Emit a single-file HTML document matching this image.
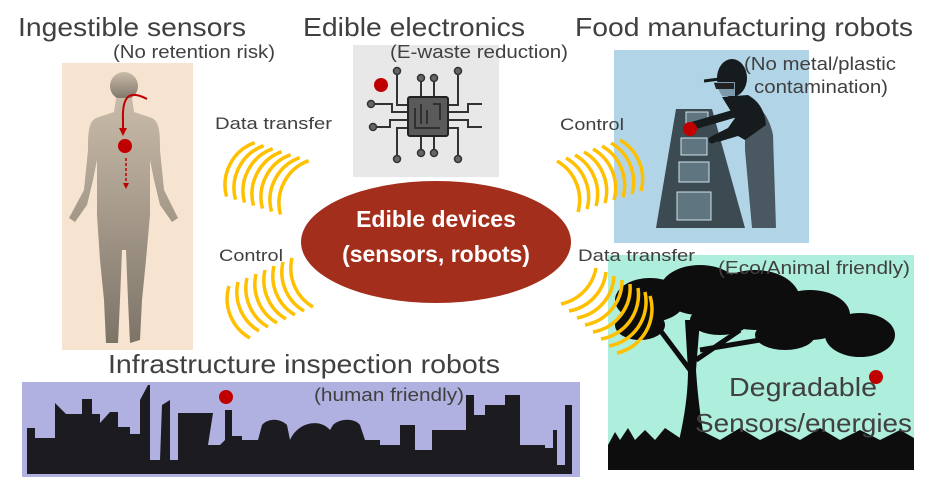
<!DOCTYPE html>
<html><head><meta charset="utf-8"><style>
html,body{margin:0;padding:0;background:#fff;width:931px;height:486px;overflow:hidden}
svg{display:block}
text{font-family:"Liberation Sans",sans-serif}
</style></head><body>
<svg width="931" height="486" viewBox="0 0 931 486" xmlns="http://www.w3.org/2000/svg">
<defs>
<linearGradient id="hg" x1="0" y1="0" x2="0" y2="1"><stop offset="0" stop-color="#c9bba9"/><stop offset="1" stop-color="#7d7468"/></linearGradient>
</defs>

<!-- Human panel -->
<rect x="62" y="63" width="131" height="287" fill="#f6e4d0"/>
<g fill="url(#hg)">
<circle cx="124" cy="86" r="14"/>
<path d="M116,98 L132,98 L134,112 L152,118 C160,122 160,135 160,150 L164,190 L178,218 L172,222 L160,205 L154,180 L150,160 L150,215 L146,260 L142,300 L140,340 L130,343 L128,300 L126,250 L122,250 L120,300 L118,343 L106,343 L104,300 L100,260 L97,215 L97,160 L93,180 L87,205 L75,222 L69,218 L84,190 L88,150 C88,135 88,122 96,118 L114,112 Z"/>
</g>
<path d="M147,99 C130,90 122,95 123,120 L123,132" stroke="#c00000" stroke-width="2" fill="none"/>
<path d="M119,128 L123,136 L127,128 Z" fill="#c00000"/>
<circle cx="125" cy="146" r="7" fill="#c00000"/>
<path d="M126,158 L126,183" stroke="#c00000" stroke-width="1.5" stroke-dasharray="3,2"/>
<path d="M123,183 L126,189 L129,183 Z" fill="#c00000"/>

<!-- Chip panel -->
<rect x="353" y="45" width="146" height="132" fill="#e8e8e8"/>
<g stroke="#333" stroke-width="2" fill="none">
<path d="M397,72 L397,105 L410,105"/><path d="M421,80 L421,98"/><path d="M434,80 L434,98"/><path d="M458,72 L458,105 L446,105"/>
<path d="M397,158 L397,128 L410,128"/><path d="M421,152 L421,134"/><path d="M434,152 L434,134"/><path d="M458,158 L458,128 L446,128"/>
<path d="M372,104 L392,104 L392,112 L410,112"/><path d="M374,127 L390,127 L390,120 L410,120"/>
<path d="M446,112 L468,112 L468,104 L482,104"/><path d="M446,120 L468,120 L468,127 L482,127"/>
</g>
<g fill="#666" stroke="#333" stroke-width="1.5">
<circle cx="397" cy="71" r="3.5"/><circle cx="421" cy="78" r="3.5"/><circle cx="434" cy="78" r="3.5"/><circle cx="458" cy="71" r="3.5"/>
<circle cx="397" cy="159" r="3.5"/><circle cx="421" cy="153" r="3.5"/><circle cx="434" cy="153" r="3.5"/><circle cx="458" cy="159" r="3.5"/>
<circle cx="371" cy="104" r="3.5"/><circle cx="373" cy="127" r="3.5"/>
</g>
<rect x="408" y="97" width="40" height="39" rx="2" fill="#5a5a5a" stroke="#222" stroke-width="2"/>
<path d="M415,108 L415,128 L440,128 M421,104 L421,124 M427,110 L427,124 M433,104 L440,104 L440,120" stroke="#222" stroke-width="1.5" fill="none"/>
<circle cx="381" cy="85" r="7" fill="#c00000"/>

<!-- Food panel -->
<rect x="614" y="50" width="195" height="193" fill="#b1d5e7"/>
<path d="M676,109 L712,109 L745,228 L656,228 Z" fill="#3c4a52"/>
<g fill="#5f7580" stroke="#cfe3ec" stroke-width="1">
<rect x="686" y="112" width="22" height="12"/><rect x="681" y="138" width="26" height="17"/><rect x="679" y="162" width="30" height="20"/><rect x="677" y="192" width="34" height="28"/>
</g>
<path d="M745,98 C762,105 770,120 773,135 L776,228 L752,228 L745,150 Z" fill="#4a5961"/>
<path d="M722,97 L748,95 C760,102 765,112 766,125 L745,140 L738,136 L718,142 L712,136 L728,128 L735,118 Z" fill="#161b1e"/>
<path d="M740,112 L692,126" stroke="#161b1e" stroke-width="8" stroke-linecap="round"/>
<path d="M745,125 L712,140" stroke="#161b1e" stroke-width="7" stroke-linecap="round"/>
<ellipse cx="732" cy="78" rx="15" ry="19" fill="#161b1e"/>
<path d="M704,81 L735,77" stroke="#161b1e" stroke-width="3"/>
<path d="M714,82 L735,82 L735,96 L722,96 Z" fill="#7c9aab"/>
<path d="M714,83 L734,83 L734,89 L716,89 Z" fill="#222"/>
<circle cx="690" cy="129" r="7" fill="#c00000"/>

<!-- Tree panel -->
<rect x="608" y="255" width="306" height="215" fill="#aeeedc"/>
<g fill="#0d0d0d">
<ellipse cx="650" cy="300" rx="35" ry="22"/>
<ellipse cx="700" cy="290" rx="40" ry="25"/>
<ellipse cx="755" cy="300" rx="45" ry="30"/>
<ellipse cx="810" cy="315" rx="40" ry="25"/>
<ellipse cx="860" cy="335" rx="35" ry="22"/>
<ellipse cx="640" cy="325" rx="25" ry="15"/>
<ellipse cx="720" cy="320" rx="30" ry="15"/>
<ellipse cx="785" cy="335" rx="30" ry="15"/>
<path d="M685,320 L700,320 L696,370 C698,400 702,430 706,445 L678,445 C684,420 688,395 688,370 Z"/>
<path d="M608,445 L615,432 L620,440 L628,428 L635,440 L645,430 L655,440 L665,428 L680,438 L700,430 L720,440 L740,428 L760,440 L780,430 L800,440 L820,428 L840,440 L860,430 L880,440 L900,430 L914,438 L914,470 L608,470 Z"/>
</g>
<path d="M690,370 L660,330 M696,360 L740,330 M700,350 L760,340" stroke="#0d0d0d" stroke-width="5"/>
<circle cx="876" cy="377" r="7" fill="#c00000"/>

<!-- Factory panel -->
<rect x="22" y="382" width="558" height="95" fill="#b0b1e0"/>
<path d="M27,474 L27,428 L35,428 L35,438 L55,438 L55,403 L66,414 L82,414 L82,399 L92,399 L92,414 L100,414 L100,423 L110,412 L118,412 L118,427 L130,427 L130,434 L140,434 L140,400 L148,385 L150,385 L150,460 L160,460 L162,405 L170,400 L170,460 L178,460 L178,413 L213,413 L208,445 L220,445 L225,440 L225,410 L232,410 L232,436 L242,436 L242,440 L258,440 L262,425 C268,418 280,418 287,425 L290,440 C298,422 320,418 330,430 L333,425 C340,418 355,418 360,425 L365,440 L380,440 L380,445 L400,445 L400,425 L415,425 L415,450 L432,450 L432,430 L466,430 L466,395 L474,395 L474,415 L485,415 L485,405 L505,405 L505,395 L520,395 L520,445 L545,445 L545,448 L553,448 L553,430 L557,430 L557,465 L565,465 L565,405 L572,405 L572,474 Z" fill="#1c1b20"/>
<circle cx="226" cy="397" r="7" fill="#c00000"/>

<!-- Ellipse -->
<ellipse cx="436" cy="242" rx="135" ry="61" fill="#a42e1c"/>
<text x="436" y="227" font-size="23" font-weight="bold" fill="#fff" text-anchor="middle">Edible devices</text>
<text x="436" y="262" font-size="23" font-weight="bold" fill="#fff" text-anchor="middle">(sensors, robots)</text>

<!-- Arcs -->
<g stroke="#ffc000" stroke-width="3.5" fill="none" stroke-linecap="butt">
<path d="M226.5,196.6 A45,45 0 0 1 254.6,142.7"/>
<path d="M235.5,199.6 A45,45 0 0 1 263.6,145.7"/>
<path d="M244.5,202.6 A45,45 0 0 1 272.6,148.7"/>
<path d="M253.5,205.6 A45,45 0 0 1 281.6,151.7"/>
<path d="M262.5,208.6 A45,45 0 0 1 290.6,154.7"/>
<path d="M271.5,211.6 A45,45 0 0 1 299.6,157.7"/>
<path d="M280.5,214.6 A45,45 0 0 1 308.6,160.7"/>

<path d="M557,161 A45,45 0 0 1 578,212"/>
<path d="M566,158 A45,45 0 0 1 587,209"/>
<path d="M575,155 A45,45 0 0 1 596,206"/>
<path d="M584,152 A45,45 0 0 1 605,203"/>
<path d="M593,149 A45,45 0 0 1 614,200"/>
<path d="M602,146 A45,45 0 0 1 623,197"/>
<path d="M611,143 A45,45 0 0 1 632,194"/>
<path d="M620,140 A45,45 0 0 1 641,191"/>

<path d="M292,258 A45,45 0 0 0 313,307"/>
<path d="M283,262 A45,45 0 0 0 304,311"/>
<path d="M274,266 A45,45 0 0 0 295,315"/>
<path d="M265,270 A45,45 0 0 0 286,319"/>
<path d="M256,274 A45,45 0 0 0 277,323"/>
<path d="M247,278 A45,45 0 0 0 268,327"/>
<path d="M238,282 A45,45 0 0 0 259,331"/>
<path d="M229,286 A45,45 0 0 0 250,338"/>

<path d="M596,268 A45,45 0 0 1 561,304"/>
<path d="M606,272 A45,45 0 0 1 569,311"/>
<path d="M614,276 A45,45 0 0 1 577,318"/>
<path d="M622,280 A45,45 0 0 1 585,325"/>
<path d="M630,284 A45,45 0 0 1 593,332"/>
<path d="M638,288 A45,45 0 0 1 601,339"/>
<path d="M645,292 A45,45 0 0 1 609,346"/>
<path d="M650,296 A45,45 0 0 1 617,353"/>
</g>

<!-- Labels -->
<g fill="#404040">
<text x="18" y="36" font-size="26" textLength="228" lengthAdjust="spacingAndGlyphs">Ingestible sensors</text>
<text x="303" y="36" font-size="26" textLength="222" lengthAdjust="spacingAndGlyphs">Edible electronics</text>
<text x="575" y="36" font-size="26" textLength="338" lengthAdjust="spacingAndGlyphs">Food manufacturing robots</text>
<text x="113" y="58" font-size="18" textLength="162" lengthAdjust="spacingAndGlyphs">(No retention risk)</text>
<text x="390" y="58" font-size="18" textLength="178" lengthAdjust="spacingAndGlyphs">(E-waste reduction)</text>
<text x="744" y="70" font-size="18" textLength="152" lengthAdjust="spacingAndGlyphs">(No metal/plastic</text>
<text x="754" y="93" font-size="18" textLength="134" lengthAdjust="spacingAndGlyphs">contamination)</text>
<text x="215" y="129" font-size="17" textLength="117" lengthAdjust="spacingAndGlyphs">Data transfer</text>
<text x="560" y="130" font-size="17" textLength="64" lengthAdjust="spacingAndGlyphs">Control</text>
<text x="219" y="261" font-size="17" textLength="64" lengthAdjust="spacingAndGlyphs">Control</text>
<text x="578" y="261" font-size="17" textLength="117" lengthAdjust="spacingAndGlyphs">Data transfer</text>
<text x="718" y="274" font-size="18" textLength="192" lengthAdjust="spacingAndGlyphs">(Eco/Animal friendly)</text>
<text x="108" y="373" font-size="26" textLength="392" lengthAdjust="spacingAndGlyphs">Infrastructure inspection robots</text>
<text x="314" y="401" font-size="18" textLength="150" lengthAdjust="spacingAndGlyphs">(human friendly)</text>
<text x="729" y="396" font-size="26" textLength="148" lengthAdjust="spacingAndGlyphs">Degradable</text>
<text x="695" y="432" font-size="26" textLength="217" lengthAdjust="spacingAndGlyphs">Sensors/energies</text>
</g>
</svg>
</body></html>
